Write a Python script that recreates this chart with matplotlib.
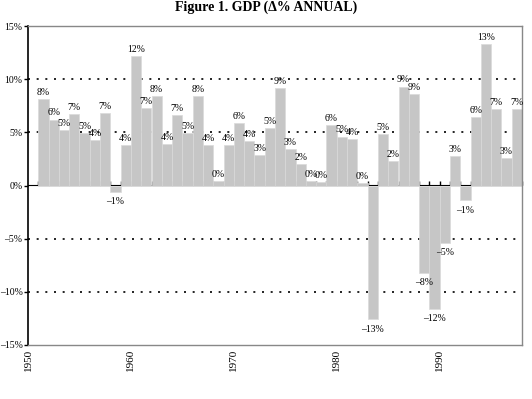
import matplotlib
matplotlib.use("Agg")
import matplotlib.pyplot as plt

plt.rcParams['font.family'] = ['Liberation Serif', 'DejaVu Serif']

# GDP annual change (%) by year
years = list(range(1951, 1998))
gdp = [8.1, 6.2, 5.2, 6.7, 4.9, 4.3, 6.8, -0.6, 3.8, 12.2,
       7.3, 8.4, 3.9, 6.6, 4.9, 8.4, 3.8, 0.4, 3.8, 5.9,
       4.2, 2.9, 5.4, 9.2, 3.4, 2.0, 0.4, 0.3, 5.7, 4.6,
       4.4, 0.2, -12.6, 4.8, 2.3, 9.3, 8.6, -8.2, -11.6, -5.4,
       2.8, -1.4, 6.4, 13.3, 7.2, 2.6, 7.2]
yticks = [-15, -10, -5, 0, 5, 10, 15]
ytick_labels = ['–15%', '–10%', '–5%', '0%', '5%', '10%', '15%']
decades = [1950, 1960, 1970, 1980, 1990]

fig = plt.figure(figsize=(5.32, 3.99), dpi=100)
ax = fig.add_axes([28/532, 54/399, 494/532, 319/399])

fig.text(0.5, 1 - 11/399, 'Figure 1. GDP (Δ% ANNUAL)', ha='center', va='baseline',
         fontsize=10, fontweight='bold')

for g in [-10, -5, 5, 10]:
    ax.axhline(g, color='black', linestyle=(0, (1.2, 4)), linewidth=1.2, zorder=0)

ax.bar([y + 0.5 for y in years], gdp, width=1.0, color='#c6c6c6',
       edgecolor='#dadada', linewidth=0.5, zorder=2)

for y, v in zip(years, gdp):
    r = int(round(v))
    txt = f'{r}%' if r >= 0 else f'–{abs(r)}%'
    if v >= 0:
        ax.text(y + 0.5, v + 0.2, txt, ha='center', va='bottom', fontsize=7, zorder=3)
    else:
        ax.text(y + 0.5, v - 0.5, txt, ha='center', va='top', fontsize=7, zorder=3)

ax.set_xlim(1950, 1998)
ax.set_ylim(-15, 15)
ax.set_yticks(yticks)
ax.set_yticklabels(ytick_labels, fontsize=7)
ax.tick_params(axis='y', direction='out', length=3, width=1, pad=1)

ax.set_xticks(decades)
ax.set_xticklabels([str(d) for d in decades], rotation=90, fontsize=8)
ax.tick_params(axis='x', length=0, pad=3)

ax.spines['left'].set_linewidth(1.2)
ax.spines['left'].set_color('black')
ax.spines['right'].set_color('#888888')
ax.spines['right'].set_linewidth(1.0)
for s in ['top', 'bottom']:
    ax.spines[s].set_color('#888888')
    ax.spines[s].set_linestyle((0, (2, 1)))
    ax.spines[s].set_linewidth(1.0)

# zero axis with year ticks
zero = ax.secondary_xaxis(0.5)
zero.set_xticks(list(range(1951, 1999)))
zero.set_xticklabels([])
zero.tick_params(direction='out', length=3, width=1)
zero.spines['bottom'].set_linewidth(1.2)

fig.savefig('out.png', dpi=100)
